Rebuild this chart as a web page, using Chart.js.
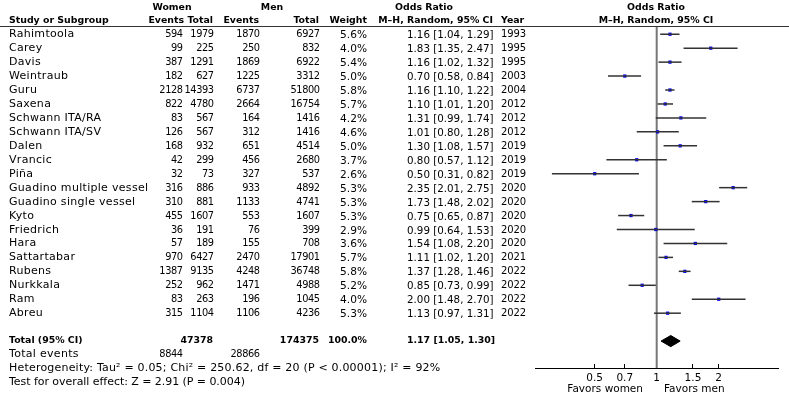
<!DOCTYPE html>
<html>
<head>
<meta charset="utf-8">
<script src="https://cdn.jsdelivr.net/npm/chart.js@4.4.1/dist/chart.umd.min.js"></script>
<style>
  html, body { margin:0; padding:0; background:#fff; }
  #wrap { position:relative; width:789px; height:394px; overflow:hidden; font-family:"DejaVu Sans", sans-serif; font-size:10px; color:#000; }
  #c { position:absolute; left:0; top:0; }
  .t { position:absolute; line-height:14px; white-space:nowrap; }
  .b { font-weight:bold; font-size:9.4px; }
  .name { font-size:11px; letter-spacing:0.3px; }
  .num { font-size:9.8px; letter-spacing:-0.45px; }
  .wt { font-size:10.6px; }
  .or { font-size:10.3px; }
  .yr { font-size:10px; letter-spacing:-0.1px; }
  .het { font-size:11px; letter-spacing:0.2px; }
  .tst { font-size:11px; letter-spacing:-0.05px; }
  .fav { font-size:10.5px; }
  #hline { position:absolute; left:0; top:26px; width:789px; height:0; border-top:1.5px solid #333; }
</style>
</head>
<body>
<div id="wrap">
  <canvas id="c" width="789" height="394"></canvas>
  <div id="hline"></div>
</div>
<script>
// ---- data ----
const studies = ["Rahimtoola","Carey","Davis","Weintraub","Guru","Saxena","Schwann ITA/RA","Schwann ITA/SV","Dalen","Vrancic","Piña","Guadino multiple vessel","Guadino single vessel","Kyto","Friedrich","Hara","Sattartabar","Rubens","Nurkkala","Ram","Abreu"];
const womenEvents = [594,99,387,182,2128,822,83,126,168,42,32,316,310,455,36,57,970,1387,252,83,315];
const womenTotal  = [1979,225,1291,627,14393,4780,567,567,932,299,73,886,881,1607,191,189,6427,9135,962,263,1104];
const menEvents   = [1870,250,1869,1225,6737,2664,164,312,651,456,327,933,1133,553,76,155,2470,4248,1471,196,1106];
const menTotal    = [6927,832,6922,3312,51800,16754,1416,1416,4514,2680,537,4892,4741,1607,399,708,17901,36748,4988,1045,4236];
const weights     = [5.6,4.0,5.4,5.0,5.8,5.7,4.2,4.6,5.0,3.7,2.6,5.3,5.3,5.3,2.9,3.6,5.7,5.8,5.2,4.0,5.3];
const oddsRatio   = [1.16,1.83,1.16,0.70,1.16,1.10,1.31,1.01,1.30,0.80,0.50,2.35,1.73,0.75,0.99,1.54,1.11,1.37,0.85,2.00,1.13];
const ciLow       = [1.04,1.35,1.02,0.58,1.10,1.01,0.99,0.80,1.08,0.57,0.31,2.01,1.48,0.65,0.64,1.08,1.02,1.28,0.73,1.48,0.97];
const ciHigh      = [1.29,2.47,1.32,0.84,1.22,1.20,1.74,1.28,1.57,1.12,0.82,2.75,2.02,0.87,1.53,2.20,1.20,1.46,0.99,2.70,1.31];
const years       = [1993,1995,1995,2003,2004,2012,2012,2012,2019,2019,2019,2020,2020,2020,2020,2020,2021,2022,2022,2022,2022];
const total = { women:47378, men:174375, weight:"100.0%", or:1.17, lo:1.05, hi:1.30, womenEvents:8844, menEvents:28866 };
const xTicks = [0.5, 0.7, 1, 1.5, 2];
const xTickLabels = ["0.5","0.7","1","1.5","2"];
const heterogeneity = "Heterogeneity: Tau² = 0.05; Chi² = 250.62, df = 20 (P < 0.00001); I² = 92%";
const overallTest = "Test for overall effect: Z = 2.91 (P = 0.004)";

// ---- layout helpers ----
const ROW0 = 34.2, PITCH = 13.95;
const TOTAL_ROW = 22;
const wrap = document.getElementById('wrap');
function txt(s, opts) {
  const d = document.createElement('div');
  d.className = 't' + (opts.bold ? ' b' : '') + (opts.cls ? ' ' + opts.cls : '');
  d.textContent = s;
  d.style.top = (opts.y - 7) + 'px';
  if (opts.right !== undefined) { d.style.right = (789 - opts.right) + 'px'; d.style.textAlign = 'right'; }
  else if (opts.center !== undefined) { d.style.left = (opts.center - 200) + 'px'; d.style.width = '400px'; d.style.textAlign = 'center'; }
  else d.style.left = opts.left + 'px';
  wrap.appendChild(d);
}
const rowY = i => ROW0 + PITCH * i;
const fmt = v => v.toFixed(2);

// headers
txt("Women", {center:172, y:7, bold:true});
txt("Men", {center:272, y:7, bold:true});
txt("Odds Ratio", {center:424, y:7, bold:true});
txt("Odds Ratio", {center:656, y:7, bold:true});
txt("Study or Subgroup", {left:9, y:20, bold:true});
txt("Events", {right:184, y:20, bold:true});
txt("Total", {right:213, y:20, bold:true});
txt("Events", {right:259, y:20, bold:true});
txt("Total", {right:319, y:20, bold:true});
txt("Weight", {right:367, y:20, bold:true});
txt("M–H, Random, 95% CI", {right:493, y:20, bold:true});
txt("Year", {left:501, y:20, bold:true});
txt("M–H, Random, 95% CI", {center:656, y:20, bold:true});

// study rows
studies.forEach((s, i) => {
  const y = rowY(i);
  txt(s, {left:9, y, cls:'name'});
  txt(String(womenEvents[i]), {right:182.5, y, cls:'num'});
  txt(String(womenTotal[i]), {right:213.5, y, cls:'num'});
  txt(String(menEvents[i]), {right:259.5, y, cls:'num'});
  txt(String(menTotal[i]), {right:319.5, y, cls:'num'});
  txt(weights[i].toFixed(1) + "%", {right:367, y, cls:'wt'});
  txt(`${fmt(oddsRatio[i])} [${fmt(ciLow[i])}, ${fmt(ciHigh[i])}]`, {left:407, y, cls:'or'});
  txt(String(years[i]), {left:501, y, cls:'yr'});
});
// total rows
const ty = rowY(TOTAL_ROW) - 1;
txt("Total (95% CI)", {left:9, y:ty, bold:true});
txt(String(total.women), {right:213, y:ty, bold:true});
txt(String(total.men), {right:319, y:ty, bold:true});
txt(total.weight, {right:367, y:ty, bold:true});
txt(`${fmt(total.or)} [${fmt(total.lo)}, ${fmt(total.hi)}]`, {left:407, y:ty, bold:true});
txt("Total events", {left:9, y:354, cls:'name'});
txt(String(total.womenEvents), {right:182.5, y:354, cls:'num'});
txt(String(total.menEvents), {right:259.5, y:354, cls:'num'});
txt(heterogeneity, {left:9, y:368, cls:'het'});
txt(overallTest, {left:9, y:382, cls:'tst'});
txt("Favors women", {right:643, y:388, cls:'fav'});
txt("Favors men", {left:664, y:388, cls:'fav'});

// ---- chart ----
const ciSets = studies.map((s, i) => ({
  data: [{x:ciLow[i], y:i}, {x:ciHigh[i], y:i}],
  showLine: true, borderColor:'#333', borderWidth:1.5, pointRadius:0, fill:false
}));
const pointSet = {
  data: oddsRatio.map((v, i) => ({x:v, y:i})),
  pointStyle:'rect', pointRadius:2.3, backgroundColor:'#0000ff', borderColor:'#0000ff', borderWidth:0, showLine:false
};
const diamondSet = {
  data: [{x:total.lo, y:TOTAL_ROW}, {x:total.or, y:TOTAL_ROW-0.4}, {x:total.hi, y:TOTAL_ROW}, {x:total.or, y:TOTAL_ROW+0.4}, {x:total.lo, y:TOTAL_ROW}],
  showLine:true, borderColor:'#000', backgroundColor:'#000', borderWidth:1, pointRadius:0, fill:'shape', tension:0
};
const refLine = {
  id:'refLine',
  beforeDatasetsDraw(chart) {
    const {ctx, chartArea, scales} = chart;
    const x = scales.x.getPixelForValue(1);
    ctx.save();
    ctx.strokeStyle = '#777'; ctx.lineWidth = 2;
    ctx.beginPath(); ctx.moveTo(x, chartArea.top); ctx.lineTo(x, chartArea.bottom); ctx.stroke();
    ctx.restore();
  }
};
new Chart(document.getElementById('c'), {
  type:'scatter',
  data:{ datasets:[...ciSets, pointSet, diamondSet] },
  plugins:[refLine],
  options:{
    responsive:false, animation:false, devicePixelRatio:1,
    layout:{ padding:{ left:535, right:11, top:26, bottom:0 } },
    plugins:{ legend:{display:false}, tooltip:{enabled:false} },
    scales:{
      x:{
        type:'logarithmic', min:0.2566, max:3.88,
        afterBuildTicks(s){ s.ticks = xTicks.map(v => ({value:v})); },
        afterFit(s){ s.height = 26; },
        ticks:{ callback:(v) => { const k = xTicks.indexOf(v); return k >= 0 ? xTickLabels[k] : ''; }, autoSkip:false, maxRotation:0, color:'#000', font:{family:'DejaVu Sans', size:10.5}, padding:8 },
        grid:{ display:true, drawOnChartArea:false, drawTicks:true, tickLength:-4, color:'#000', lineWidth:1 },
        border:{ display:true, color:'#000', width:1 }
      },
      y:{ type:'linear', reverse:true, min:-0.59, max:23.93, display:false }
    }
  }
});
</script>
</body>
</html>
